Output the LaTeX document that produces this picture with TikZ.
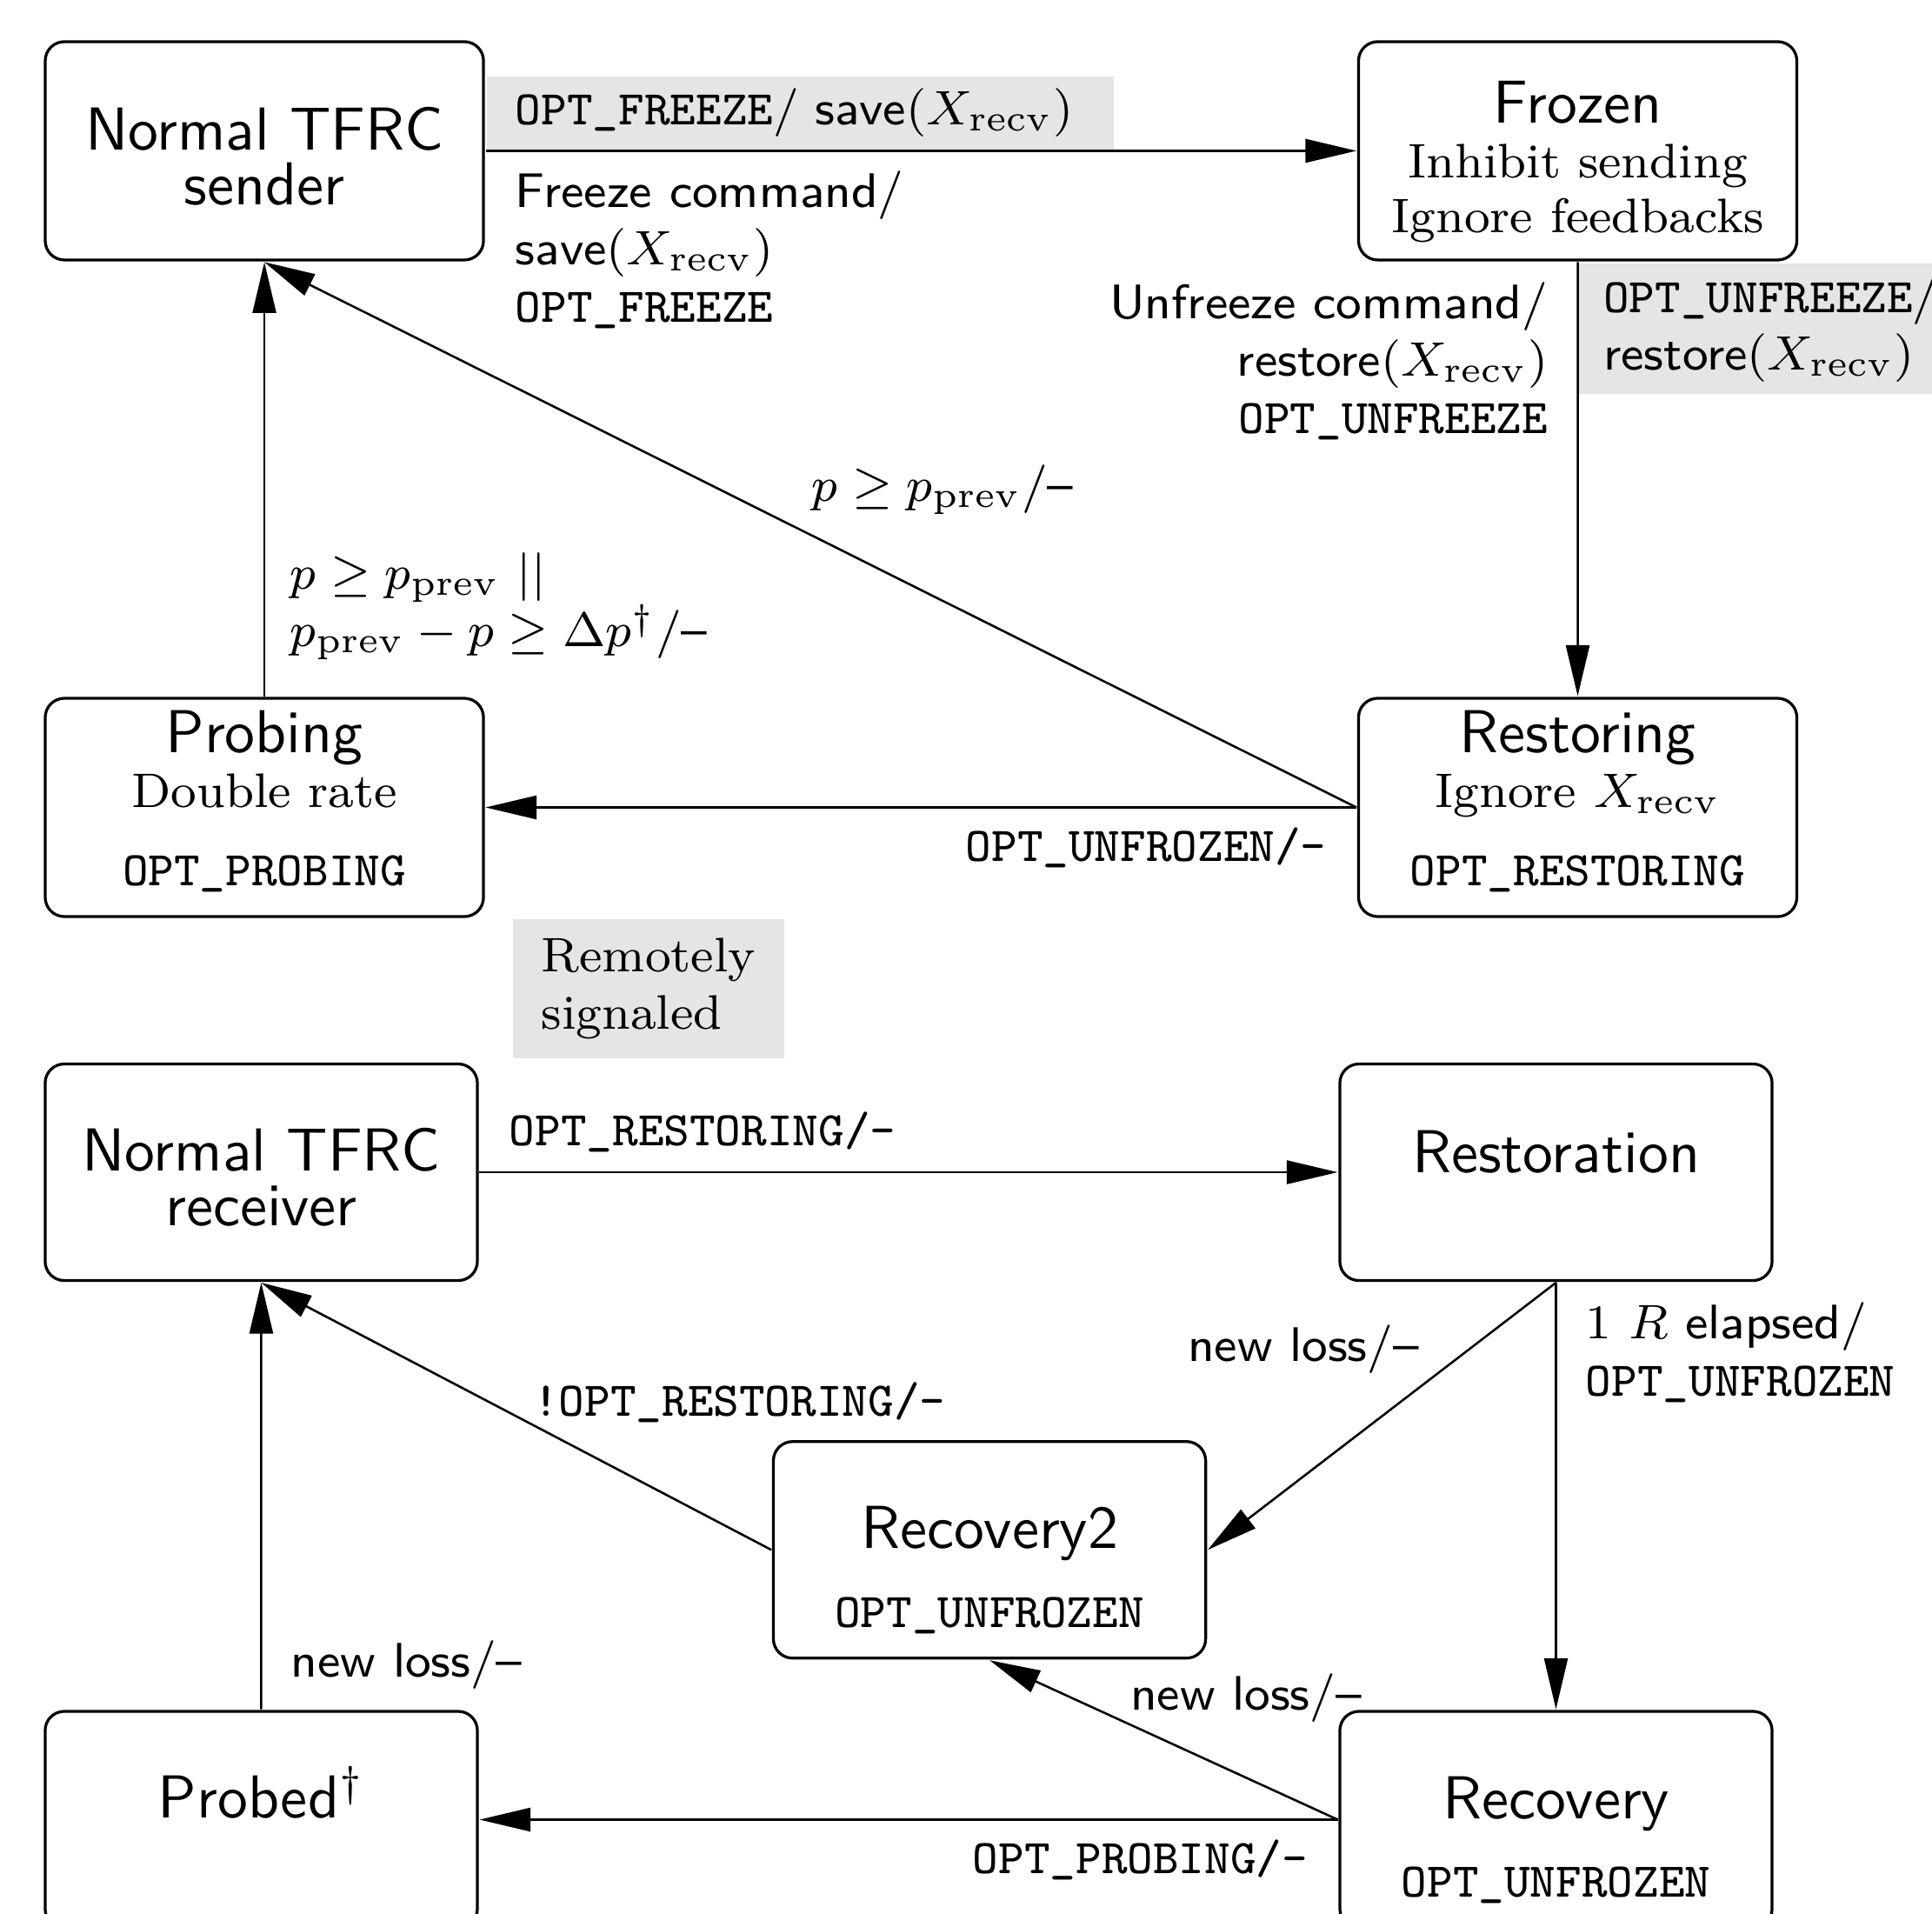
\documentclass[tikz,border=0pt]{standalone}
\usepackage{tikz}
\usetikzlibrary{arrows.meta}

\newcommand{\statesub}[1]{{\rmfamily\fontsize{8}{9}\selectfont #1}}
\newcommand{\statecode}[1]{{\ttfamily\fontsize{8}{9}\selectfont #1}}
\newcommand{\vlift}[1]{\rule{0pt}{#1}}
\newcommand{\vsink}[1]{\rule[-#1]{0pt}{#1}}
\newcommand{\xrecv}{$\left(X_{\mathrm{recv}}\right)$}

\tikzset{
  state/.style={draw, rectangle, rounded corners=0.1667cm, line width=0.7pt, align=center,
    font=\fontsize{10}{9}\selectfont\sffamily, inner sep=0pt, scale=1.5},
  upper/.style={state, minimum width=2.54cm, minimum height=1.265cm},
  lower/.style={state, minimum width=2.505cm, minimum height=1.255cm},
  trans/.style={draw, line width=0.55pt, -{Triangle[length=12.6pt,width=5.8pt]}},
  lbl/.style={font=\sffamily\footnotesize, inner xsep=4.667pt, inner ysep=3pt, scale=1.5},
  grey/.style={fill=black!10, inner xsep=4.667pt, inner ysep=2pt}
}

\begin{document}
\begin{tikzpicture}
\useasboundingbox (0,0) rectangle (16.795,-16.636);

% sender side
\node[upper] (sender) at (2.298,-1.311) {\vlift{8.9pt}Normal TFRC\\ sender};
\node[upper] (frozen) at (13.715,-1.311) {\vlift{10.6pt}Frozen\\ \statesub{Inhibit sending}\\ \statesub{Ignore feedbacks}};
\node[upper] (probing) at (2.298,-7.018) {Probing\\ \statesub{Double rate}\\[4pt] \statecode{OPT\_PROBING}\vsink{3.07pt}};
\node[upper] (restoring) at (13.715,-7.018) {Restoring\\ \statesub{Ignore $X_{\mathrm{recv}}$}\\[4pt] \statecode{OPT\_RESTORING}\vsink{3.07pt}};

\draw[trans] (sender) --
  node (fzgrey) [pos=0, anchor=south west, lbl, grey, text width=3.305cm, align=left] {\texttt{OPT\_FREEZE}/ save\xrecv}
  node (fzcmd) [pos=0, anchor=north west, lbl, align=left] {Freeze command/\\ save\xrecv\\ \texttt{OPT\_FREEZE}} (frozen);
\draw[trans] (frozen) --
  node (ufcmd) [pos=0, anchor=north east, lbl, align=right] {Unfreeze command/\\ restore\xrecv\\ \texttt{OPT\_UNFREEZE}}
  node (ufgrey) [pos=0, anchor=north west, lbl, grey, align=left, inner xsep=4pt] {\texttt{OPT\_UNFREEZE}/\\ restore\xrecv} (restoring);
\draw[trans] (restoring) -- node (ufzlbl) [pos=0, anchor=north east, lbl] {\texttt{OPT\_UNFROZEN/-}} (probing);
\draw[trans] (restoring.west) -- node (pglbl) [pos=0.5, anchor=south west, xshift=-7pt, lbl] {$p \geq p_{\mathrm{prev}}$/--} (sender.south);
\draw[trans] (probing) -- node (pplbl) [pos=0, anchor=south west, yshift=4pt, lbl, align=left, inner xsep=4pt] {$p \geq p_{\mathrm{prev}}\ ||$\\ $p_{\mathrm{prev}} - p \geq \Delta p^{\dagger}$/--} (sender);

\node (legend) [lbl, grey, font=\rmfamily\footnotesize, text width=1.24cm, align=left, inner ysep=3.07pt, anchor=north west] at (4.452,-7.982) {Remotely\\ signaled};

% receiver side
\node[lower] (receiver) at (2.271,-10.189) {\vlift{8.6pt}Normal TFRC\\ receiver};
\node[lower] (restoration) at (13.526,-10.189) {Restoration\vsink{6.94pt}};
\node[lower] (recovery2) at (8.602,-13.471) {\vlift{13.7pt}Recovery2\\[4pt] \statecode{OPT\_UNFROZEN}};
\node[lower] (probed) at (2.271,-15.816) {Probed$^{\dagger}$\vsink{9pt}};
\node[lower] (recovery) at (13.526,-15.816) {\vlift{13.7pt}Recovery\\[4pt] \statecode{OPT\_UNFROZEN}};

\draw[trans] (receiver) -- node (rstlbl) [pos=0, anchor=south west, lbl] {\texttt{OPT\_RESTORING/-}} (restoration);
\draw[trans] (restoration) -- node (elplbl) [pos=0, anchor=north west, lbl, align=left] {$1\ R$ elapsed/\\ \texttt{OPT\_UNFROZEN}} (recovery);
\draw[trans] (restoration.south) -- node (nlA) [pos=0.25, anchor=east, xshift=-5pt, lbl] {new loss/--} (recovery2.east);
\draw[trans] (recovery2.west) -- node (nrlbl) [pos=0.47, anchor=south west, lbl, inner sep=0pt] {\texttt{!OPT\_RESTORING/-}} (receiver.south);
\draw[trans] (probed) -- node (nlB) [pos=0, anchor=south west, lbl] {new loss/--} (receiver);
\draw[trans] (recovery) -- node (prlbl) [pos=0, anchor=north east, lbl] {\texttt{OPT\_PROBING/-}} (probed);
\draw[trans] (recovery.west) -- node (nlC) [pos=0.6, anchor=south west, lbl, inner sep=0pt] {new loss/--} (recovery2.south);
\end{tikzpicture}
\end{document}
